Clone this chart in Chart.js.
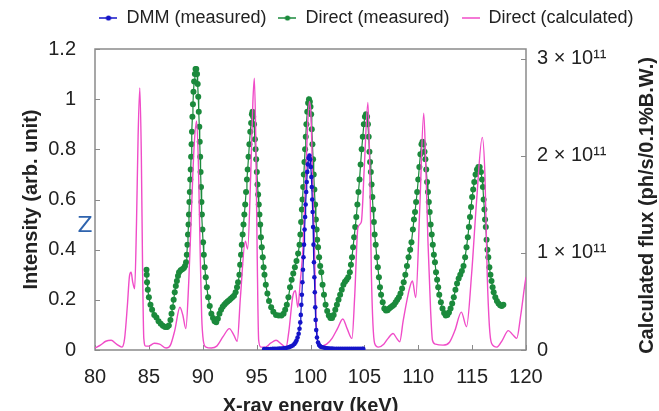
<!DOCTYPE html>
<html>
<head>
<meta charset="utf-8">
<script src="https://cdn.jsdelivr.net/npm/chart.js@4.4.0/dist/chart.umd.min.js"></script>
<style>
  html, body { margin: 0; padding: 0; background: #fff; }
</style>
</head>
<body>
<canvas id="myChart" width="659" height="411"></canvas>
<script>
// tick labels
const energyTicks = [80, 85, 90, 95, 100, 105, 110, 115, 120];
const intensityTicks = [0, 0.2, 0.4, 0.6, 0.8, 1, 1.2];
const fluxTicks = [0, 1e11, 2e11, 3e11];

// DMM (measured): [energy keV, intensity]
const dmmMeasured = [
  [95.7,0.004],[95.9,0.004],[96.1,0.004],[96.3,0.004],[96.5,0.005],[96.7,0.005],[96.9,0.005],[97.1,0.006],
  [97.3,0.006],[97.5,0.007],[97.7,0.008],[97.9,0.01],[98.05,0.012],[98.2,0.015],[98.35,0.018],[98.5,0.024],
  [98.6,0.03],[98.7,0.038],[98.8,0.05],[98.9,0.065],[98.98,0.085],[99.05,0.11],[99.1,0.14],[99.15,0.18],
  [99.2,0.22],[99.25,0.27],[99.3,0.32],[99.35,0.37],[99.4,0.42],[99.45,0.48],[99.5,0.53],[99.55,0.58],
  [99.6,0.63],[99.65,0.67],[99.7,0.71],[99.76,0.74],[99.82,0.765],[99.9,0.775],[99.97,0.76],[100.03,0.73],
  [100.08,0.69],[100.12,0.65],[100.16,0.6],[100.2,0.55],[100.24,0.49],[100.28,0.42],[100.32,0.35],[100.36,0.29],
  [100.4,0.23],[100.44,0.17],[100.48,0.12],[100.53,0.08],[100.6,0.05],[100.7,0.03],[100.8,0.02],[100.9,0.015],
  [101.0,0.012],[101.2,0.01],[101.4,0.008],[101.6,0.007],[101.8,0.006],[102.0,0.006],[102.2,0.005],[102.4,0.005],
  [102.6,0.005],[102.8,0.005],[103.0,0.005],[103.2,0.005],[103.4,0.005],[103.6,0.005],[103.8,0.005],[104.0,0.005],
  [104.2,0.005],[104.4,0.005],[104.6,0.005],[104.8,0.005],[104.9,0.005]
];

// Direct (measured): [energy keV, intensity]
const directMeasured = [
  [84.78,0.32],[84.8,0.3],[84.83,0.27],[84.9,0.24],[85.0,0.21],[85.15,0.18],[85.3,0.16],[85.5,0.14],
  [85.7,0.13],[85.9,0.115],[86.1,0.105],[86.3,0.097],[86.5,0.092],[86.7,0.092],[86.85,0.098],[87.0,0.12],
  [87.1,0.145],[87.2,0.17],[87.3,0.2],[87.4,0.23],[87.5,0.255],[87.6,0.275],[87.7,0.295],[87.8,0.31],
  [87.95,0.318],[88.1,0.322],[88.25,0.327],[88.35,0.335],[88.45,0.35],[88.52,0.38],[88.58,0.42],[88.63,0.46],
  [88.68,0.5],[88.72,0.54],[88.76,0.59],[88.8,0.63],[88.84,0.68],[88.88,0.72],[88.92,0.77],[88.96,0.82],
  [89.0,0.87],[89.04,0.93],[89.09,0.98],[89.14,1.03],[89.2,1.07],[89.27,1.1],[89.33,1.12],[89.4,1.12],
  [89.47,1.1],[89.53,1.06],[89.58,1.01],[89.63,0.95],[89.68,0.89],[89.72,0.83],[89.76,0.77],[89.8,0.71],
  [89.84,0.65],[89.88,0.59],[89.92,0.54],[89.97,0.48],[90.03,0.43],[90.1,0.38],[90.18,0.33],[90.28,0.29],
  [90.38,0.25],[90.5,0.21],[90.65,0.175],[90.8,0.145],[90.95,0.128],[91.1,0.115],[91.25,0.111],[91.4,0.125],
  [91.55,0.145],[91.7,0.16],[91.85,0.172],[92.0,0.18],[92.15,0.187],[92.3,0.193],[92.45,0.198],[92.6,0.204],
  [92.75,0.21],[92.9,0.216],[93.05,0.23],[93.18,0.25],[93.28,0.27],[93.4,0.3],[93.47,0.34],[93.55,0.38],
  [93.62,0.42],[93.7,0.46],[93.78,0.5],[93.86,0.54],[93.94,0.58],[94.02,0.63],[94.1,0.68],[94.17,0.72],
  [94.25,0.77],[94.33,0.82],[94.41,0.87],[94.49,0.905],[94.56,0.94],[94.62,0.95],[94.68,0.93],[94.76,0.9],
  [94.84,0.84],[94.9,0.8],[94.96,0.76],[95.02,0.71],[95.08,0.66],[95.14,0.62],[95.2,0.58],[95.26,0.54],
  [95.33,0.5],[95.4,0.45],[95.48,0.41],[95.57,0.37],[95.65,0.33],[95.73,0.3],[95.85,0.26],[96.0,0.225],
  [96.15,0.195],[96.35,0.17],[96.55,0.152],[96.8,0.14],[97.05,0.138],[97.3,0.138],[97.5,0.145],[97.65,0.16],
  [97.8,0.18],[97.95,0.21],[98.1,0.25],[98.25,0.28],[98.4,0.305],[98.55,0.33],[98.7,0.355],[98.85,0.385],
  [98.98,0.42],[99.06,0.46],[99.13,0.51],[99.2,0.56],[99.26,0.6],[99.32,0.65],[99.38,0.7],[99.44,0.75],
  [99.5,0.8],[99.56,0.85],[99.62,0.9],[99.7,0.95],[99.78,0.985],[99.86,1.0],[99.94,0.99],[100.0,0.97],
  [100.06,0.94],[100.12,0.88],[100.18,0.82],[100.24,0.76],[100.3,0.7],[100.36,0.64],[100.43,0.58],[100.5,0.52],
  [100.57,0.48],[100.62,0.44],[100.7,0.41],[100.8,0.37],[100.9,0.335],[101.0,0.31],[101.12,0.26],[101.25,0.22],
  [101.4,0.18],[101.55,0.155],[101.7,0.138],[101.85,0.128],[102.0,0.128],[102.15,0.14],[102.3,0.16],[102.45,0.18],
  [102.6,0.2],[102.75,0.22],[102.9,0.24],[103.05,0.26],[103.2,0.272],[103.35,0.28],[103.5,0.29],[103.65,0.31],
  [103.75,0.34],[103.85,0.37],[103.95,0.41],[104.05,0.45],[104.15,0.49],[104.25,0.53],[104.35,0.58],[104.45,0.63],
  [104.55,0.68],[104.65,0.74],[104.75,0.8],[104.85,0.85],[104.95,0.9],[105.05,0.93],[105.15,0.94],[105.25,0.93],
  [105.33,0.9],[105.4,0.85],[105.47,0.79],[105.53,0.75],[105.6,0.71],[105.67,0.66],[105.74,0.61],[105.81,0.56],
  [105.88,0.51],[105.95,0.46],[106.05,0.42],[106.15,0.37],[106.25,0.33],[106.35,0.29],[106.45,0.25],[106.55,0.22],
  [106.7,0.19],[106.85,0.165],[107.0,0.157],[107.15,0.158],[107.3,0.165],[107.45,0.17],[107.6,0.175],[107.75,0.18],
  [107.9,0.19],[108.05,0.2],[108.2,0.21],[108.35,0.225],[108.5,0.245],[108.65,0.27],[108.8,0.3],[108.95,0.335],
  [109.1,0.37],[109.25,0.4],[109.37,0.43],[109.5,0.48],[109.6,0.52],[109.7,0.55],[109.8,0.59],[109.9,0.63],
  [110.0,0.68],[110.1,0.73],[110.2,0.78],[110.3,0.82],[110.4,0.83],[110.5,0.82],[110.58,0.79],[110.66,0.76],
  [110.74,0.72],[110.82,0.67],[110.9,0.63],[110.98,0.59],[111.06,0.55],[111.15,0.5],[111.25,0.46],[111.35,0.42],
  [111.45,0.38],[111.55,0.35],[111.65,0.31],[111.75,0.28],[111.85,0.25],[111.95,0.22],[112.1,0.19],[112.25,0.165],
  [112.4,0.148],[112.55,0.138],[112.7,0.14],[112.85,0.15],[113.0,0.165],[113.15,0.185],[113.3,0.21],[113.45,0.24],
  [113.6,0.265],[113.75,0.285],[113.9,0.3],[114.05,0.315],[114.2,0.335],[114.35,0.37],[114.48,0.41],[114.6,0.45],
  [114.7,0.49],[114.8,0.53],[114.9,0.57],[115.0,0.61],[115.1,0.64],[115.2,0.67],[115.32,0.7],[115.45,0.72],
  [115.58,0.73],[115.7,0.73],[115.82,0.71],[115.92,0.68],[116.0,0.65],[116.07,0.6],[116.14,0.56],[116.2,0.52],
  [116.27,0.49],[116.34,0.44],[116.42,0.4],[116.5,0.37],[116.6,0.33],[116.7,0.3],[116.8,0.275],[116.9,0.25],
  [117.0,0.23],[117.15,0.21],[117.3,0.195],[117.45,0.185],[117.6,0.178],[117.75,0.175],[117.9,0.18]
];

// Direct (calculated): [energy keV, flux ph/s/0.1%B.W.]
const directCalculated = [
  [80.0,0.02e11],[80.5,0.05e11],[81.0,0.09e11],[81.5,0.10e11],[82.0,0.06e11],[82.5,0.03e11],[82.75,0.12e11],
  [83.0,0.45e11],[83.2,0.76e11],[83.35,0.8e11],[83.5,0.7e11],[83.68,0.63e11],[83.85,1.3e11],[84.0,2.2e11],
  [84.16,2.7e11],[84.3,2.0e11],[84.42,0.8e11],[84.53,0.12e11],[84.7,0.04e11],[85.0,0.04e11],[85.5,0.07e11],
  [86.0,0.06e11],[86.6,0.02e11],[87.0,0.05e11],[87.4,0.2e11],[87.88,0.44e11],[88.15,0.36e11],[88.43,0.22e11],
  [88.7,0.7e11],[88.96,1.46e11],[89.2,2.1e11],[89.43,2.36e11],[89.6,1.9e11],[89.74,1.12e11],[89.9,0.35e11],
  [90.05,0.1e11],[90.3,0.03e11],[90.8,0.02e11],[91.3,0.04e11],[91.9,0.14e11],[92.47,0.22e11],[92.9,0.15e11],
  [93.2,0.09e11],[93.5,0.55e11],[93.95,1.12e11],[94.17,1.04e11],[94.45,1.8e11],[94.65,2.55e11],[94.79,2.8e11],
  [94.92,2.2e11],[95.05,1.0e11],[95.19,0.1e11],[95.4,0.03e11],[95.8,0.03e11],[96.3,0.07e11],[96.8,0.1e11],
  [97.3,0.06e11],[97.73,0.03e11],[98.0,0.2e11],[98.35,0.55e11],[98.6,0.61e11],[98.82,0.44e11],[99.05,0.7e11],
  [99.3,1.05e11],[99.55,1.75e11],[99.75,2.35e11],[99.9,2.56e11],[100.05,2.4e11],[100.2,1.75e11],[100.37,1.05e11],
  [100.5,0.37e11],[100.68,0.08e11],[101.0,0.04e11],[101.5,0.06e11],[102.0,0.12e11],[102.5,0.22e11],[103.0,0.32e11],
  [103.4,0.22e11],[103.85,0.12e11],[104.1,0.55e11],[104.4,1.26e11],[104.72,1.32e11],[105.0,1.9e11],[105.33,2.55e11],
  [105.5,1.9e11],[105.65,0.78e11],[105.95,0.07e11],[106.3,0.03e11],[106.8,0.06e11],[107.2,0.12e11],[107.66,0.17e11],
  [108.0,0.12e11],[108.28,0.085e11],[108.6,0.3e11],[109.2,0.64e11],[109.46,0.71e11],[109.77,0.54e11],[110.14,1.46e11],
  [110.51,2.44e11],[110.7,1.9e11],[110.9,1.12e11],[111.15,0.4e11],[111.32,0.1e11],[111.6,0.06e11],[112.3,0.05e11],
  [112.9,0.08e11],[113.4,0.2e11],[114.0,0.39e11],[114.48,0.24e11],[114.95,0.78e11],[115.41,1.53e11],[115.94,2.19e11],
  [116.19,1.8e11],[116.4,0.78e11],[116.6,0.25e11],[116.8,0.07e11],[117.3,0.03e11],[117.8,0.1e11],[118.36,0.2e11],
  [118.75,0.16e11],[119.14,0.12e11],[119.5,0.35e11],[119.9,0.68e11],[120.0,0.75e11]
];

const blue = '#1414c8';
const green = '#1b8a3c';
const pink = '#f04cc8';
const textColor = '#222';
const fontFamily = '"Liberation Sans", Arial, sans-serif';

Chart.defaults.font.family = fontFamily;

const toXY = pts => pts.map(p => ({ x: p[0], y: p[1] }));

// little line(+dot) icons for the legend
function legendIcon(color, withDot) {
  const c = document.createElement('canvas');
  c.width = 18; c.height = 10;
  const g = c.getContext('2d');
  g.strokeStyle = color; g.lineWidth = 1.5;
  g.beginPath(); g.moveTo(0, 5); g.lineTo(18, 5); g.stroke();
  if (withDot) {
    g.fillStyle = color;
    g.beginPath(); g.arc(9, 5, 2.6, 0, Math.PI * 2); g.fill();
  }
  return c;
}

// legend: leave a bit more room under it and move it right
const legendPlacement = {
  id: 'legendPlacement',
  beforeInit(chart) {
    const legend = chart.legend;
    const fit = legend.fit;
    legend.fit = function () {
      fit.call(this);
      this.height += 9;
    };
  },
  afterLayout(chart) {
    chart.legend.left += 74;
    chart.legend.top -= 3;
  }
};

// frame, inward tick marks, axis titles
const framePlugin = {
  id: 'frame',
  beforeDatasetsDraw(chart) {
    const { ctx, chartArea: a, scales } = chart;
    ctx.save();
    ctx.strokeStyle = '#8a8a8a';
    ctx.lineWidth = 1.5;
    ctx.strokeRect(a.left, a.top, a.right - a.left, a.bottom - a.top);
    ctx.lineWidth = 1;
    ctx.beginPath();
    energyTicks.forEach(v => {
      const px = Math.round(scales.x.getPixelForValue(v)) + 0.5;
      ctx.moveTo(px, a.bottom); ctx.lineTo(px, a.bottom - 5);
    });
    intensityTicks.forEach(v => {
      const py = Math.round(scales.y.getPixelForValue(v)) + 0.5;
      ctx.moveTo(a.left, py); ctx.lineTo(a.left + 5, py);
    });
    fluxTicks.forEach(v => {
      const py = Math.round(scales.y2.getPixelForValue(v)) + 0.5;
      ctx.moveTo(a.right, py); ctx.lineTo(a.right - 5, py);
    });
    ctx.stroke();
    ctx.restore();
  },
  afterDraw(chart) {
    const { ctx, chartArea: a } = chart;
    ctx.save();
    ctx.fillStyle = textColor;
    ctx.font = 'bold 20px ' + fontFamily;
    ctx.textAlign = 'center';
    ctx.textBaseline = 'alphabetic';
    ctx.fillText('X-ray energy (keV)', (a.left + a.right) / 2, 412);

    ctx.textBaseline = 'middle';
    ctx.save();
    ctx.translate(31, (a.top + a.bottom) / 2);
    ctx.rotate(-Math.PI / 2);
    ctx.fillText('Intensity (arb. unit)', 0, 0);
    ctx.restore();

    ctx.save();
    ctx.translate(647, (a.top + a.bottom) / 2 + 6);
    ctx.rotate(-Math.PI / 2);
    ctx.fillText('Calculated flux (ph/s/0.1%B.W.)', 0, 0);
    ctx.restore();

    ctx.fillStyle = '#2f64ae';
    ctx.font = '22px "DejaVu Sans", sans-serif';
    ctx.fillText('Z', 85, 226);
    ctx.restore();
  }
};

const datasets = [
  {
    label: 'DMM (measured)',
    data: toXY(dmmMeasured),
    yAxisID: 'y',
    borderColor: blue,
    backgroundColor: blue,
    borderWidth: 1.2,
    pointRadius: 2.3,
    pointBorderWidth: 0,
    order: 0
  },
  {
    label: 'Direct (measured)',
    data: toXY(directMeasured),
    yAxisID: 'y',
    borderColor: green,
    backgroundColor: green,
    borderWidth: 1.2,
    pointRadius: 3,
    pointBorderWidth: 0,
    order: 2
  },
  {
    label: 'Direct (calculated)',
    data: toXY(directCalculated),
    yAxisID: 'y2',
    borderColor: pink,
    backgroundColor: pink,
    borderWidth: 1.4,
    pointRadius: 0,
    cubicInterpolationMode: 'monotone',
    order: 1
  }
];

const icons = [legendIcon(blue, true), legendIcon(green, true), legendIcon(pink, false)];

new Chart(document.getElementById('myChart').getContext('2d'), {
  type: 'line',
  data: { datasets: datasets },
  options: {
    responsive: false,
    animation: false,
    layout: { padding: 0 },
    plugins: {
      tooltip: { enabled: false },
      legend: {
        position: 'top',
        labels: {
          color: textColor,
          font: { size: 18 },
          usePointStyle: true,
          pointStyleWidth: 18,
          padding: 12,
          generateLabels: () => datasets.map((d, i) => ({
            text: d.label,
            pointStyle: icons[i],
            fillStyle: d.borderColor,
            strokeStyle: d.borderColor,
            lineWidth: 0,
            hidden: false,
            datasetIndex: i,
            fontColor: textColor
          }))
        }
      }
    },
    scales: {
      x: {
        type: 'linear',
        min: 80,
        max: 120,
        afterBuildTicks: s => { s.ticks = energyTicks.map(v => ({ value: v })); },
        afterFit: s => { s.height = 61; },
        grid: { display: false },
        border: { display: false },
        ticks: { color: textColor, font: { size: 20 }, padding: 7, maxRotation: 0 }
      },
      y: {
        position: 'left',
        min: 0,
        max: 1.2,
        afterBuildTicks: s => { s.ticks = intensityTicks.map(v => ({ value: v })); },
        afterFit: s => { s.width = 95; },
        grid: { display: false },
        border: { display: false },
        ticks: { color: textColor, font: { size: 20 }, padding: 11, callback: v => String(v) }
      },
      y2: {
        position: 'right',
        min: 0,
        max: 3.1e11,
        afterBuildTicks: s => { s.ticks = fluxTicks.map(v => ({ value: v })); },
        afterFit: s => { s.width = 133; },
        grid: { display: false },
        border: { display: false },
        ticks: {
          color: textColor,
          font: { size: 20 },
          padding: 3,
          callback: v => v === 0 ? '0' : (v / 1e11) + ' \u00d7 10\u00b9\u00b9'
        }
      }
    }
  },
  plugins: [legendPlacement, framePlugin]
});
</script>
</body>
</html>
